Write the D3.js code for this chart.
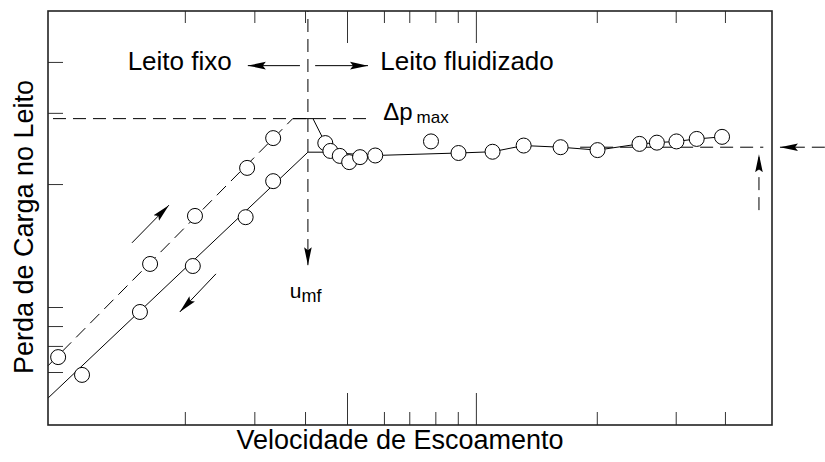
<!DOCTYPE html>
<html>
<head>
<meta charset="utf-8">
<script src="https://cdn.jsdelivr.net/npm/d3@7"></script>
<style>
  body { margin: 0; background: #fff; }
  svg { display: block; font-family: "Liberation Sans", Arial, sans-serif; }
</style>
</head>
<body>
<svg width="825" height="462"></svg>
<script>
// tick positions (arbitrary units)
var xMinorTicks = [18.9, 28.5, 35.5, 46.4, 49.9, 53.5, 56.6, 75.8, 86.7, 93.5];
var xMajorTicks = [41.3, 59.1];
var yTicks = [12.8, 19.1, 23.9, 28.5, 58.2, 75.4, 87.7];

// rising velocity (fixed bed, dashed)
var upX = [1.4, 14.1, 20.3, 27.5, 31.1];
var upY = [16.4, 38.9, 50.5, 62.1, 69.3];
// falling velocity (fixed bed, solid)
var downX = [4.7, 12.7, 20.0, 27.3, 31.1];
var downY = [12.1, 27.3, 38.4, 50.2, 58.9];
// fluidized bed points
var fluidX = [38.3, 39.0, 40.3, 41.6, 43.1, 45.2, 52.9, 56.7, 61.4, 65.7, 70.8, 75.9, 81.7, 84.1, 86.8, 89.6, 93.1];
var fluidY = [68.1, 66.2, 65.0, 63.5, 64.7, 65.1, 68.5, 65.7, 66.0, 67.5, 67.1, 66.4, 67.9, 68.2, 68.5, 69.1, 69.6];

// fitted lines
var upLine = [[0, 14.3], [33.8, 74.0]];
var peakLine = [[33.8, 74.0], [36.6, 74.0], [38.3, 68.1]];
var downLine = [[0, 6.5], [35.9, 65.9], [38.3, 65.9]];
var fluidLine = [[38.3, 65.9], [45.2, 65.1], [56.7, 65.7], [61.4, 66.0], [65.7, 67.5], [70.8, 67.1],
                 [75.9, 66.4], [81.7, 67.9], [84.1, 68.2], [86.8, 68.5], [89.6, 69.1], [93.1, 69.6]];

var umf = 35.9, dpMax = 74.0, dpFluid = 67.1;

var svg = d3.select("svg");
var mLeft = 48, mRight = 772, mTop = 11, mBottom = 425;

var x = d3.scaleLinear().domain([0, 100]).range([mLeft, mRight]);
var y = d3.scaleLinear().domain([0, 100]).range([mBottom, mTop]);

var defs = svg.append("defs");
defs.append("marker")
    .attr("id", "head")
    .attr("markerUnits", "userSpaceOnUse")
    .attr("viewBox", "0 -5 18 10")
    .attr("refX", 18).attr("refY", 0)
    .attr("markerWidth", 18).attr("markerHeight", 10)
    .attr("orient", "auto")
  .append("path")
    .attr("d", "M0,-3.8L18,0L0,3.8L3,0Z")
    .attr("fill", "#000");

// axes ticks (inside the frame)
function noDomain(g) { g.select(".domain").remove(); g.selectAll("text").remove(); g.selectAll("line").attr("stroke", "#333"); }

svg.append("g").attr("transform", "translate(0," + mBottom + ")")
    .call(d3.axisBottom(x).tickValues(xMinorTicks).tickSize(-13)).call(noDomain);
svg.append("g").attr("transform", "translate(0," + mBottom + ")")
    .call(d3.axisBottom(x).tickValues(xMajorTicks).tickSize(-32)).call(noDomain);
svg.append("g").attr("transform", "translate(0," + mTop + ")")
    .call(d3.axisTop(x).tickValues(xMinorTicks).tickSize(-12)).call(noDomain);
svg.append("g").attr("transform", "translate(0," + mTop + ")")
    .call(d3.axisTop(x).tickValues(xMajorTicks).tickSize(-32)).call(noDomain);
svg.append("g").attr("transform", "translate(" + mLeft + ",0)")
    .call(d3.axisLeft(y).tickValues(yTicks).tickSize(-15)).call(noDomain);

var line = d3.line().x(function (d) { return x(d[0]); }).y(function (d) { return y(d[1]); });

// reference dashed lines
svg.append("path").attr("d", line([[0, dpMax], [44.8, dpMax]]))
    .attr("fill", "none").attr("stroke", "#000").attr("stroke-dasharray", "13,7").attr("stroke-dashoffset", -5);
svg.append("path").attr("d", line([[umf, 100], [umf, 38.6]]))
    .attr("fill", "none").attr("stroke", "#000").attr("stroke-dasharray", "13,7").attr("stroke-dashoffset", -8)
    .attr("marker-end", "url(#head)");
svg.append("path").attr("d", line([[73.5, dpFluid], [98.8, dpFluid]]))
    .attr("fill", "none").attr("stroke", "#000").attr("stroke-dasharray", "13,7");

// fitted lines
svg.append("path").attr("d", line(upLine))
    .attr("fill", "none").attr("stroke", "#000").attr("stroke-dasharray", "13,7");
svg.append("path").attr("d", line(peakLine)).attr("fill", "none").attr("stroke", "#000");
svg.append("path").attr("d", line(downLine)).attr("fill", "none").attr("stroke", "#000");
svg.append("path").attr("d", line(fluidLine)).attr("fill", "none").attr("stroke", "#000");

// arrows
function arrow(p, dashed) {
    var a = svg.append("path").attr("d", line(p))
        .attr("fill", "none").attr("stroke", "#000").attr("marker-end", "url(#head)");
    if (dashed) a.attr("stroke-dasharray", "13,7");
}
arrow([[34.8, 86.8], [27.6, 86.8]]);
arrow([[36.9, 86.8], [44.2, 86.8]]);
arrow([[11.6, 44.0], [16.7, 53.1]]);
arrow([[23.2, 36.5], [18.2, 27.3]]);
arrow([[107.3, dpFluid], [101.1, dpFluid]], true);
arrow([[98.2, 51.9], [98.2, 65.4]], true);

// points
var pts = d3.zip(upX, upY).concat(d3.zip(downX, downY), d3.zip(fluidX, fluidY));
svg.append("g").selectAll("circle")
    .data(pts)
    .enter().append("circle")
    .attr("cx", function (d) { return x(d[0]); })
    .attr("cy", function (d) { return y(d[1]); })
    .attr("r", 7.5)
    .attr("fill", "#fff")
    .attr("stroke", "#000")
    .attr("stroke-width", 1);

// frame
svg.append("rect")
    .attr("x", mLeft).attr("y", mTop)
    .attr("width", mRight - mLeft).attr("height", mBottom - mTop)
    .attr("fill", "none").attr("stroke", "#222").attr("stroke-width", 1.6);

// labels
svg.append("text").attr("x", x(11.0)).attr("y", y(85.7))
    .attr("font-size", 26).text("Leito fixo");
svg.append("text").attr("x", x(45.9)).attr("y", y(85.7))
    .attr("font-size", 26).text("Leito fluidizado");

var dp = svg.append("text").attr("x", x(46.3)).attr("y", y(73.6)).attr("font-size", 24);
dp.append("tspan").text("\u0394p");
dp.append("tspan").attr("dx", 4).attr("dy", 3).attr("font-size", 17).text("max");

var u = svg.append("text").attr("x", x(33.4)).attr("y", y(30.7)).attr("font-size", 21);
u.append("tspan").text("u");
u.append("tspan").attr("dy", 4).attr("font-size", 18).text("mf");

svg.append("text")
    .attr("x", 400).attr("y", 449)
    .attr("text-anchor", "middle").attr("font-size", 27)
    .text("Velocidade de Escoamento");
svg.append("text")
    .attr("transform", "translate(33,227) rotate(-90)")
    .attr("text-anchor", "middle").attr("font-size", 27)
    .text("Perda de Carga no Leito");
</script>
</body>
</html>
